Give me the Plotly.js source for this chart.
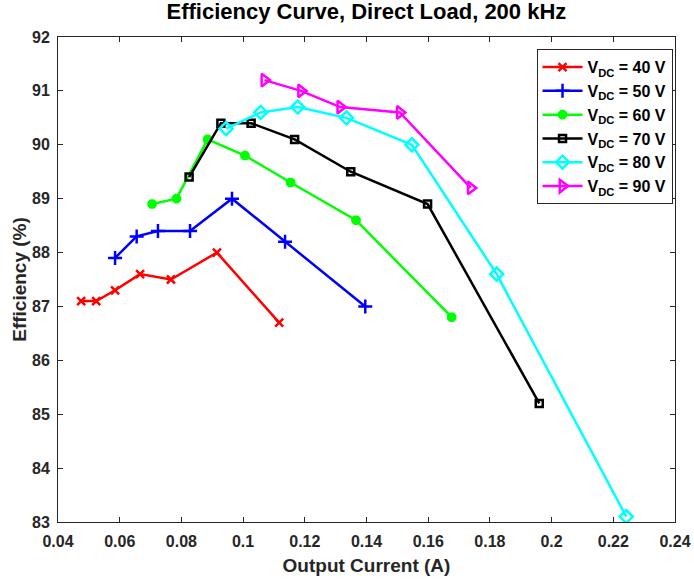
<!DOCTYPE html>
<html><head><meta charset="utf-8">
<script src="https://cdn.plot.ly/plotly-3.0.1.min.js"></script>
<style>body{margin:0;background:#fff}</style>
</head><body><div id="chart" style="width:694px;height:580px"></div>
<script>
const seriesNames = ["V<sub>DC</sub> = 40 V","V<sub>DC</sub> = 50 V","V<sub>DC</sub> = 60 V","V<sub>DC</sub> = 70 V","V<sub>DC</sub> = 80 V","V<sub>DC</sub> = 90 V"];
const x40 = [0.0475,0.0524,0.0585,0.0666,0.0766,0.0915,0.1117];
const y40 = [87.1,87.1,87.3,87.6,87.5,88.0,86.7];
const x50 = [0.0585,0.0655,0.0724,0.0828,0.0964,0.1136,0.1396];
const y50 = [87.9,88.3,88.4,88.4,89.0,88.2,87.0];
const x60 = [0.0705,0.0784,0.0885,0.1006,0.1154,0.1366,0.1676];
const y60 = [88.9,89.0,90.1,89.8,89.3,88.6,86.8];
const x70 = [0.0825,0.0928,0.1026,0.1167,0.1349,0.1598,0.1960];
const y70 = [89.4,90.4,90.4,90.1,89.5,88.9,85.2];
const x80 = [0.0945,0.1057,0.1177,0.1335,0.1547,0.1822,0.2242];
const y80 = [90.3,90.6,90.7,90.5,90.0,87.6,83.1];
const x90 = [0.1069,0.1188,0.1315,0.1508,0.1738];
const y90 = [91.2,91.0,90.7,90.6,89.2];
const xTicks = [0.04,0.06,0.08,0.1,0.12,0.14,0.16,0.18,0.2,0.22,0.24];
const xTickText = ["0.04","0.06","0.08","0.1","0.12","0.14","0.16","0.18","0.2","0.22","0.24"];
const yTicks = [83,84,85,86,87,88,89,90,91,92];

const xs=[x40,x50,x60,x70,x80,x90], ys=[y40,y50,y60,y70,y80,y90];
const colors=["#ff0000","#0000ff","#00ff00","#000000","#00ffff","#ff00ff"];
const symbols=["x-thin-open","cross-thin-open","asterisk-open","square-open","diamond-open","triangle-right-open"];
const sizes=[8,10,8,7,10,11];
const traces = xs.map((x,i)=>({
  x:x, y:ys[i], name:seriesNames[i], type:'scatter', mode:'lines+markers',
  line:{color:colors[i], width:2.5},
  marker:{symbol:symbols[i], size:sizes[i], color:colors[i], line:{color:colors[i], width:i===2?3.5:2.5}}
}));
const F = 'Liberation Sans, Arial, sans-serif';
const layout = {
  width:694, height:580,
  margin:{l:58,r:19,t:37,b:58},
  paper_bgcolor:'#fff', plot_bgcolor:'#fff',
  font:{family:F, size:16, color:'#262626', weight:'bold'},
  title:{text:'<b>Efficiency Curve, Direct Load, 200 kHz</b>', font:{family:F,size:22,color:'#000'}, x:0.528, xanchor:'center', y:0.993, yanchor:'top'},
  xaxis:{range:[0.04,0.24], tickvals:xTicks, ticktext:xTickText, ticks:'inside', ticklen:5, tickcolor:'#262626',
    showline:true, linecolor:'#262626', linewidth:1, mirror:'ticks', showgrid:false, zeroline:false,
    ticklabelstandoff:5,
    tickfont:{family:F,size:16,color:'#262626',weight:'bold'},
    title:{text:'<b>Output Current (A)</b>', font:{family:F,size:19,color:'#262626'}, standoff:9}},
  yaxis:{range:[83,92], tickvals:yTicks, ticks:'inside', ticklen:5, tickcolor:'#262626',
    showline:true, linecolor:'#262626', linewidth:1, mirror:'ticks', showgrid:false, zeroline:false,
    ticklabelstandoff:4,
    tickfont:{family:F,size:16,color:'#262626',weight:'bold'},
    title:{text:'<b>Efficiency (%)</b>', font:{family:F,size:19,color:'#262626'}, standoff:0}},
  legend:{x:0.996, y:0.975, xanchor:'right', yanchor:'top', bgcolor:'#fff', bordercolor:'#262626', borderwidth:1,
    font:{family:F,size:16,color:'#000',weight:'bold'}, tracegroupgap:0, itemwidth:40},
  showlegend:true
};
Plotly.newPlot('chart', traces, layout, {displayModeBar:false});
</script></body></html>
